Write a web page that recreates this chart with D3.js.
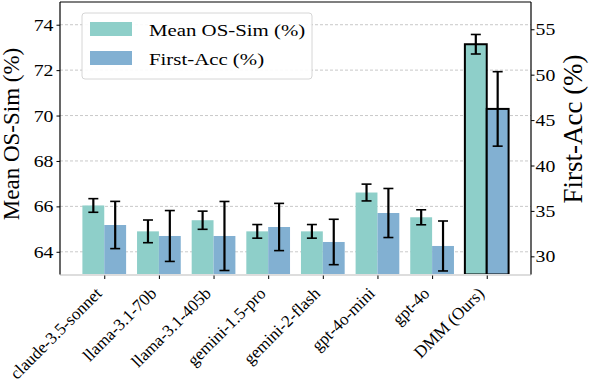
<!DOCTYPE html>
<html><head><meta charset="utf-8">
<script src="https://cdn.jsdelivr.net/npm/d3@7"></script>
<style>body{margin:0;background:#fff}svg{display:block}</style>
</head><body><svg id="c" width="590" height="386"></svg>
<script>
const categories = ["claude-3.5-sonnet","llama-3.1-70b","llama-3.1-405b","gemini-1.5-pro","gemini-2-flash","gpt-4o-mini","gpt-4o","DMM (Ours)"];
const osSim = [66.04, 64.9, 65.39, 64.9, 64.9, 66.61, 65.52, 73.14];
const osSimErr = [0.3, 0.5, 0.4, 0.3, 0.3, 0.37, 0.33, 0.43];
const firstAcc = [33.45, 32.24, 32.24, 33.23, 31.58, 34.77, 31.14, 46.23];
const firstAccErr = [2.6, 2.8, 3.8, 2.6, 2.5, 2.7, 2.75, 4.1];
const leftTicks = [64, 66, 68, 70, 72, 74];
const rightTicks = [30, 35, 40, 45, 50, 55];
const seriesNames = ["Mean OS-Sim (%)", "First-Acc (%)"];
const colors = ["#8ECFC9", "#82B0D2"];

const svg = d3.select("#c");
const L = 60, R = 531, T = 2, B = 274.5;
const font = "'Liberation Serif','Times New Roman',serif";
const x = d3.scaleLinear().domain([-0.81, 7.81]).range([L, R]);
const yL = d3.scaleLinear().domain([63, 75]).range([B, T]);
const yR = d3.scaleLinear().domain([28, 58]).range([B, T]);
const step = x(1) - x(0);
const bw = step * 0.4;

function stretch(sel, k) {
  sel.each(function () {
    const w = this.getComputedTextLength();
    this.setAttribute("textLength", w * k);
    this.setAttribute("lengthAdjust", "spacingAndGlyphs");
  });
}

// grid
svg.append("g").selectAll("line").data(leftTicks).join("line")
  .attr("x1", L).attr("x2", R).attr("y1", d => yL(d)).attr("y2", d => yL(d))
  .attr("stroke", "#bbb").attr("stroke-width", 0.8).attr("stroke-dasharray", "3,2");

// bars
const g = svg.append("g");
categories.forEach((c, i) => {
  const last = i === categories.length - 1;
  g.append("rect").attr("x", x(i) - bw).attr("width", bw)
    .attr("y", yL(osSim[i])).attr("height", B - yL(osSim[i]))
    .attr("fill", colors[0])
    .attr("stroke", last ? "#000" : "none").attr("stroke-width", last ? 2 : 0);
  g.append("rect").attr("x", x(i)).attr("width", bw)
    .attr("y", yR(firstAcc[i])).attr("height", B - yR(firstAcc[i]))
    .attr("fill", colors[1])
    .attr("stroke", last ? "#000" : "none").attr("stroke-width", last ? 2 : 0);
});
// error bars
function err(cx, y1, y2) {
  const e = svg.append("g").attr("stroke", "#000");
  e.append("line").attr("x1", cx).attr("x2", cx).attr("y1", y1).attr("y2", y2).attr("stroke-width", 2.2);
  [y1, y2].forEach(yy => e.append("line").attr("x1", cx - 5).attr("x2", cx + 5).attr("y1", yy).attr("y2", yy).attr("stroke-width", 1.6));
}
categories.forEach((c, i) => {
  err(x(i) - bw / 2, yL(osSim[i] + osSimErr[i]), yL(osSim[i] - osSimErr[i]));
  err(x(i) + bw / 2, yR(firstAcc[i] + firstAccErr[i]), yR(firstAcc[i] - firstAccErr[i]));
});

// spines
svg.append("line").attr("x1", L).attr("x2", R).attr("y1", B + 0.5).attr("y2", B + 0.5).attr("stroke", "#ddd").attr("stroke-width", 2);
svg.append("line").attr("x1", L).attr("x2", R).attr("y1", T).attr("y2", T).attr("stroke", "#000").attr("stroke-width", 1.2);
svg.append("line").attr("x1", L).attr("x2", L).attr("y1", T).attr("y2", B).attr("stroke", "#000").attr("stroke-width", 1.2);
svg.append("line").attr("x1", R).attr("x2", R).attr("y1", T).attr("y2", B).attr("stroke", "#000").attr("stroke-width", 1.2);

// axes
const axL = svg.append("g").attr("transform", `translate(${L},0)`)
  .call(d3.axisLeft(yL).tickValues(leftTicks).tickSize(3.5).tickPadding(3));
const axR = svg.append("g").attr("transform", `translate(${R},0)`)
  .call(d3.axisRight(yR).tickValues(rightTicks).tickSize(3.5).tickPadding(1));
const axX = svg.append("g").attr("transform", `translate(0,${B + 1})`)
  .call(d3.axisBottom(x).tickValues(d3.range(categories.length)).tickFormat(i => categories[i]).tickSize(3.5).tickPadding(2));
[axL, axR, axX].forEach(a => {
  a.select(".domain").remove();
  a.selectAll("text").attr("font-family", font).attr("fill", "#000");
});
axL.selectAll("text").attr("font-size", 17.5);
axR.selectAll("text").attr("font-size", 17.5);
stretch(axL.selectAll("text"), 1.13);
stretch(axR.selectAll("text"), 1.13);
axX.selectAll("text").attr("font-size", 17)
  .attr("text-anchor", "end").attr("dy", null).attr("x", 0).attr("y", 0)
  .attr("transform", "translate(-2,19) rotate(-45)");

// axis titles
svg.append("text").attr("transform", `translate(19,134) rotate(-90)`)
  .attr("text-anchor", "middle").attr("font-family", font).attr("font-size", 23).text("Mean OS-Sim (%)");
svg.append("text").attr("transform", `translate(582,129) rotate(-90)`)
  .attr("text-anchor", "middle").attr("font-family", font).attr("font-size", 27).text("First-Acc (%)");

// legend
const lg = svg.append("g").attr("transform", "translate(82,13)");
lg.append("rect").attr("width", 230).attr("height", 66).attr("rx", 3)
  .attr("fill", "#fff").attr("fill-opacity", 0.9).attr("stroke", "#ccc").attr("stroke-width", 0.8);
seriesNames.forEach((s, i) => {
  lg.append("rect").attr("x", 8).attr("y", 9 + i * 29).attr("width", 42).attr("height", 14).attr("fill", colors[i]);
  lg.append("text").attr("x", 67).attr("y", 22.7 + i * 29.6).attr("font-family", font).attr("font-size", 17.5).text(s);
});
stretch(lg.selectAll("text"), 1.19);
</script></body></html>
